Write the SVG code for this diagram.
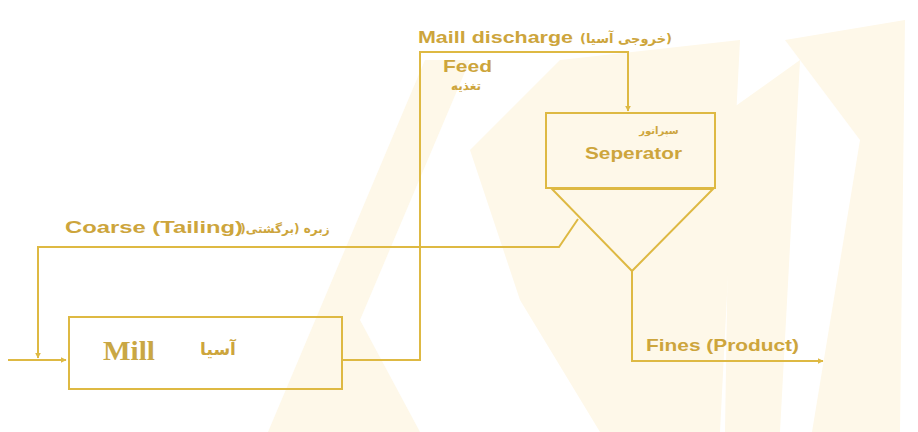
<svg xmlns="http://www.w3.org/2000/svg" width="918" height="432" viewBox="0 0 918 432">
<defs>
<style>
.ln{fill:none;stroke:#DEB943;stroke-width:2;stroke-linejoin:miter}
.box{fill:none;stroke:#DEB943;stroke-width:2}
.t{font-family:"Liberation Sans","DejaVu Sans",sans-serif;font-weight:bold;fill:#CDA53C}
.ar{font-family:"DejaVu Sans","Noto Sans",sans-serif;font-weight:bold;fill:#CDA53C}
.wm{fill:#FEF8E9}
</style>
<marker id="ah" viewBox="0 0 10 10" refX="9" refY="5" markerWidth="6" markerHeight="6" orient="auto" markerUnits="userSpaceOnUse">
<path d="M0,0 L10,5 L0,10 z" fill="#DEB943"/>
</marker>
</defs>
<rect width="918" height="432" fill="#FFFFFF"/>
<g id="watermark">
<polygon class="wm" points="268,432 425,60 470,60 360,320 420,432"/>
<polygon class="wm" points="470,150 560,60 740,40 720,432 600,432 520,300"/>
<polygon class="wm" points="785,40 905,20 900,432 812,432 860,140"/>
<polygon class="wm" points="730,110 800,60 780,432 725,432"/>
</g>
<g id="connectors">
<path class="ln" d="M8,360 H66" marker-end="url(#ah)"/>
<path class="ln" d="M578,219 L559,247 H38 V358" marker-end="url(#ah)"/>
<path class="ln" d="M342,360 H420 V52 H628 V111" marker-end="url(#ah)"/>
<path class="ln" d="M632,271 V361 H823" marker-end="url(#ah)"/>
</g>
<g id="mill">
<rect class="box" x="69" y="317" width="273" height="72"/>
<text x="103" y="360" font-family="Liberation Serif,serif" font-weight="bold" font-size="27" fill="#C9A744" textLength="52" lengthAdjust="spacingAndGlyphs">Mill</text>
<text class="ar" x="218" y="355" font-size="17" text-anchor="middle" direction="rtl">آسیا</text>
</g>
<g id="separator">
<rect class="box" x="546" y="113" width="169" height="75"/>
<polygon class="box" points="552,189 713,189 632,271"/>
<text class="ar" x="659" y="134" font-size="10" text-anchor="middle" direction="rtl">سپراتور</text>
<text class="t" x="585" y="159" font-size="17" textLength="97" lengthAdjust="spacingAndGlyphs">Seperator</text>
</g>
<g id="labels">
<text class="t" x="418" y="43" font-size="17" textLength="155" lengthAdjust="spacingAndGlyphs">Maill discharge</text>
<text class="ar" x="626" y="43" font-size="13" text-anchor="middle">(خروجی آسیا)</text>
<text class="t" x="443" y="72" font-size="17" textLength="49" lengthAdjust="spacingAndGlyphs">Feed</text>
<text class="ar" x="466" y="90" font-size="12" text-anchor="middle" direction="rtl">تغذیه</text>
<text class="t" x="65" y="233" font-size="16" textLength="178" lengthAdjust="spacingAndGlyphs">Coarse (Tailing)</text>
<text class="ar" x="285" y="233" font-size="12" text-anchor="middle">)زبره (برگشتی</text>
<text class="t" x="646" y="351" font-size="17" textLength="153" lengthAdjust="spacingAndGlyphs">Fines (Product)</text>
</g>
</svg>
